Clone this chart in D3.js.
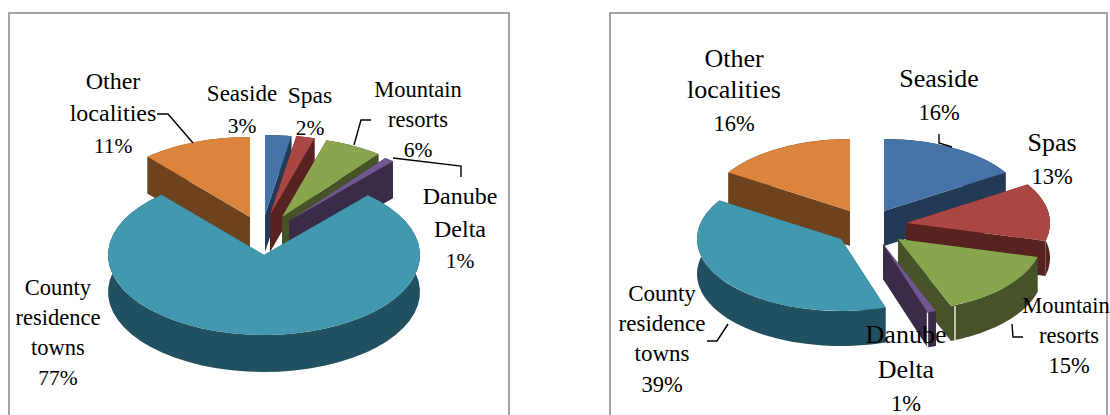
<!DOCTYPE html>
<html>
<head>
<meta charset="utf-8">
<style>
html,body{margin:0;padding:0;background:#fff;overflow:hidden}
svg{display:block}
text{font-family:"Liberation Serif",serif;fill:#000;text-anchor:middle}
</style>
<script src="https://cdn.jsdelivr.net/npm/d3@7/dist/d3.min.js"></script>
</head>
<body>
<div id="chart"></div>
<script>
// ---- data ----
const categories = ["Seaside","Spas","Mountain resorts","Danube Delta","County residence towns","Other localities"];
const leftValues  = [2.7, 1.9, 6, 1, 77, 11.4];
const rightValues = [16, 13, 15, 1, 39, 16];
const leftPercentLabels  = ["3%","2%","6%","1%","77%","11%"];
const rightPercentLabels = ["16%","13%","15%","1%","39%","16%"];
const labelLines = [["Seaside"],["Spas"],["Mountain","resorts"],["Danube","Delta"],["County","residence","towns"],["Other","localities"]];

// ---- palette ----
const topColors  = ["#4674a8","#aa4644","#89a54e","#71588f","#4198af","#db843d"];
const wallColors = ["#233a56","#572220","#465228","#3a2c49","#215060","#6f421e"];

// ---- layout ----
const WIDTH = 1110, HEIGHT = 415;
const leftLayout = {
  frame:[9,13,500,430], cx:264, cy:255, rx:156, ry:80, depth:37,
  explode:[[1,-40],[6,-40],[18,-38],[25,-34],[0,0],[-14,-38]],
  order:[5,0,1,2,3,4], seams:[],
  labelX:[242,310,418,460,58,113],
  labelY:[[101,133],[103,135],[97,127,157],[204,237,268],[295,325,355,385],[89,121,153]],
  size:[23,23.5,22.5,24,22.5,24], percentSize:21.5,
  leaders:[[[157,114],[168,114],[193,143]],[[371,120],[361,120],[354,145]],[[393,158],[461,166],[461,177]]]
};
const rightLayout = {
  frame:[610,13,497,430], cx:841, cy:239, rx:144, ry:72, depth:35,
  explode:[[43,-28],[65,-16],[57,0],[42,5],[0,0],[9,-28]],
  order:[5,0,1,4,2,3], seams:[2,3],
  labelX:[939,1052,[1066,1069,1069],906,662,734],
  labelY:[[87,120],[151,184],[313,343,373],[343,378,411],[301,331,361,392],[67,98,131]],
  size:[26,26,22.5,26,23,26], percentSize:22.5,
  leaders:[[[939,134],[939,143],[952,147]],[[1012,324],[1013,337],[1023,337]],[[728,324],[717,341],[707,341]]]
};

const svg = d3.select("#chart").append("svg").attr("width",WIDTH).attr("height",HEIGHT);
const pie = d3.pie().sort(null);
const unitArc = d3.arc().innerRadius(0).outerRadius(1);
const leaderLine = d3.line();

function drawPie(values, percents, L){
  const g = svg.append("g");
  g.append("rect")
    .attr("x",L.frame[0]).attr("y",L.frame[1]).attr("width",L.frame[2]).attr("height",L.frame[3])
    .attr("fill","#fff").attr("stroke","#868686").attr("stroke-width",1.5);

  const arcs = pie(values);
  const X = d3.scaleLinear().domain([-1,1]).range([-L.rx,L.rx]);
  const Y = d3.scaleLinear().domain([-1,1]).range([L.ry,-L.ry]);

  L.order.forEach(i=>{
    const a = arcs[i];
    const cx = L.cx + L.explode[i][0], cy = L.cy + L.explode[i][1];
    const px = d => cx + X(d.r*Math.sin(d.t));
    const py = d => cy + Y(d.r*Math.cos(d.t));
    const wall = d3.area().x(px).y0(py).y1(d=>py(d)+L.depth);

    // outer rim wall
    const n = 48;
    const rim = d3.range(n+1).map(k=>({r:1,t:a.startAngle+(a.endAngle-a.startAngle)*k/n}));
    g.append("path").attr("d",wall(rim)).attr("fill",wallColors[i]);
    // radial walls
    [a.startAngle,a.endAngle].forEach(t=>{
      g.append("path").attr("d",wall([{r:0,t},{r:1,t}])).attr("fill",wallColors[i]);
    });
    // seam highlight on the front corner of the wall
    if(L.seams.includes(i)){
      const p = {r:1,t:a.endAngle};
      const sx = px(p)+ (i===2?4:0), sy = py(p);
      g.append("path").attr("d",leaderLine([[sx,sy],[sx,sy+L.depth]]))
        .attr("stroke","#f4f4ec").attr("stroke-width",1.4).attr("fill","none");
    }
    // top face
    g.append("path")
      .attr("d",unitArc({startAngle:a.startAngle,endAngle:a.endAngle}))
      .attr("transform",`translate(${cx},${cy}) scale(${L.rx},${L.ry})`)
      .attr("fill",topColors[i]);
  });

  // leader lines
  L.leaders.forEach(pts=>{
    g.append("path").attr("d",leaderLine(pts)).attr("fill","none").attr("stroke","#000").attr("stroke-width",1.4);
  });

  // labels
  categories.forEach((c,i)=>{
    const names = labelLines[i];
    names.concat([percents[i]]).forEach((t,k)=>{
      const xs = L.labelX[i];
      g.append("text")
        .attr("x",Array.isArray(xs)?xs[k]:xs)
        .attr("y",L.labelY[i][k])
        .attr("font-size",k<names.length?L.size[i]:L.percentSize)
        .text(t);
    });
  });
}

drawPie(leftValues,leftPercentLabels,leftLayout);
drawPie(rightValues,rightPercentLabels,rightLayout);
</script>
</body>
</html>
